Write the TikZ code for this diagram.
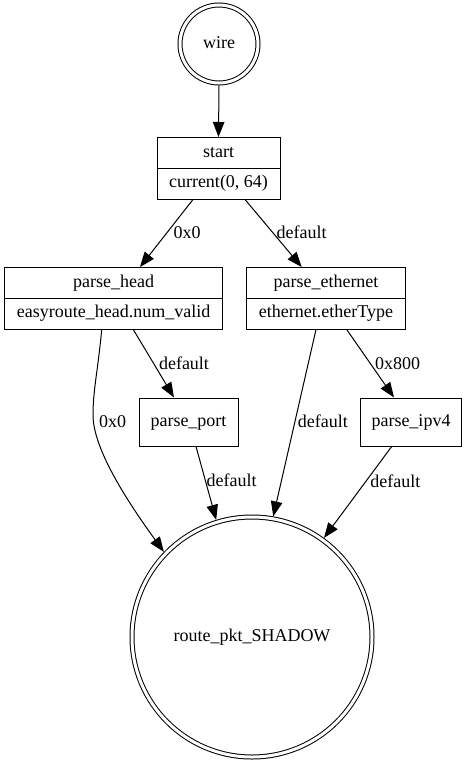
\documentclass[tikz,border=0pt]{standalone}
\usepackage{fontspec}
\setmainfont{Liberation Serif}
\usetikzlibrary{arrows.meta,calc}
\begin{document}
\begin{tikzpicture}[x=1pt,y=-1pt,
  font=\fontsize{18}{21}\selectfont,
  every node/.style={inner sep=0pt},
  lw/.style={line width=1pt},
  recbox/.style={draw, line width=1pt, rectangle, minimum height=61.5pt},
  plainbox/.style={draw, line width=1pt, rectangle, minimum height=48pt, text height=12.5pt, text depth=4pt},
  txt/.style={text height=12.5pt, text depth=4pt},
  lbl/.style={text height=12.5pt, text depth=0pt},
  dcirc/.style={draw, circle, line width=1pt, double, double distance=3pt, outer sep=2.5pt, text height=12.5pt, text depth=4pt},
  edge/.style={line width=1pt, -{Triangle[length=15pt,width=11.5pt]}}
]
\useasboundingbox (0,0) rectangle (467,765);

% nodes
\node[dcirc, minimum size=78pt] (wire) at (219,44) {wire};
\node[recbox, minimum width=123pt] (start) at (218.5,168.25) {};
\node[txt] (startA) at (218.5,152.9) {start};
\node[txt] (startB) at (218.5,183.6) {current(0, 64)};
\draw[lw] (start.west) -- (start.east);

\node[recbox, minimum width=218pt] (phead) at (113.7,298.3) {};
\node[txt] (pheadA) at (113.7,283) {parse\_head};
\node[txt] (pheadB) at (113.7,313.7) {easyroute\_head.num\_valid};
\draw[lw] (phead.west) -- (phead.east);

\node[recbox, minimum width=158.6pt] (peth) at (326,298.3) {};
\node[txt] (pethA) at (326,283) {parse\_ethernet};
\node[txt] (pethB) at (326,313.7) {ethernet.etherType};
\draw[lw] (peth.west) -- (peth.east);

\node[plainbox, minimum width=99pt] (pport) at (188.5,422) {parse\_port};
\node[plainbox, minimum width=101pt] (pipv) at (411,422) {parse\_ipv4};

\node[dcirc, minimum size=240pt] (route) at (252,637) {route\_pkt\_SHADOW};

% edges
\draw[edge] (wire.south) -- (start.north);
\draw[edge] ([xshift=-25.5]start.south) -- ([xshift=26.3]phead.north);
\draw[edge] ([xshift=26.5]start.south) -- ([xshift=-24.3]peth.north);
\draw[edge] ([xshift=-12]phead.south) .. controls (98,370) and (93,390) .. (93,415)
   .. controls (93,450) and (130,505) .. (route.136.4);
\draw[edge] ([xshift=19.6]phead.south) -- ([xshift=-14.5]pport.north);
\draw[edge] ([xshift=7.5]pport.south) -- (route.107);
\draw[edge] ([xshift=-10]peth.south) -- (route.80.2);
\draw[edge] ([xshift=20.7]peth.south) -- ([xshift=-17]pipv.north);
\draw[edge] ([xshift=-19.3]pipv.south) -- (route.54);

% labels
\node[lbl] (l1) at (187,232) {0x0};
\node[lbl] (l2) at (301.7,232) {default};
\node[lbl] (l3) at (112.7,421.7) {0x0};
\node[lbl] (l4) at (184,363.3) {default};
\node[lbl] (l5) at (231.7,480) {default};
\node[lbl] (l6) at (322.8,421) {default};
\node[lbl] (l7) at (397.5,363.3) {0x800};
\node[lbl] (l8) at (395.3,481) {default};
\end{tikzpicture}
\end{document}
